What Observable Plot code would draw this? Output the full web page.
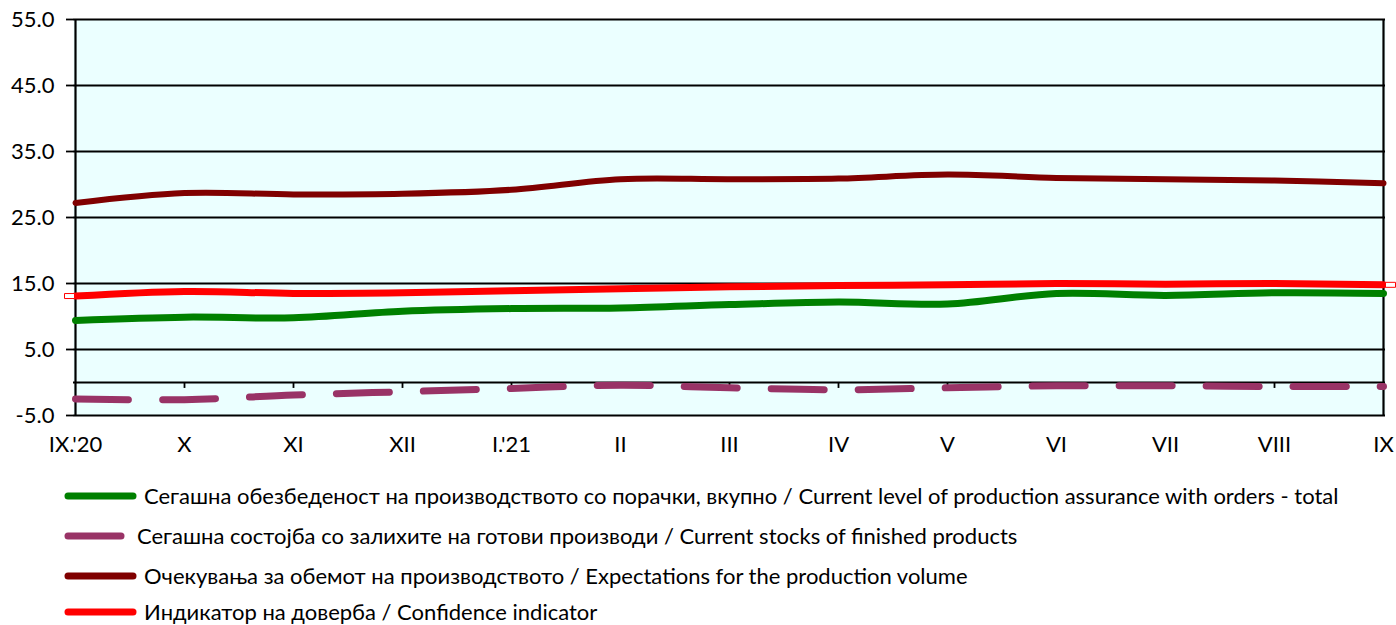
<!DOCTYPE html>
<html>
<head>
<meta charset="utf-8">
<script src="https://cdn.jsdelivr.net/npm/d3@7"></script>
<script src="https://cdn.jsdelivr.net/npm/@observablehq/plot@0.6"></script>
<style>
  body { margin: 0; background: #fff; font-family: Lato, "Open Sans", sans-serif; overflow: hidden; }
  #chart svg { display: block; }
  .legend { position: relative; height: 155px; }
  .row { position: absolute; left: 0; height: 26px; line-height: 26px; display: flex; align-items: center; font-size: 22px; color: #000; white-space: nowrap; }
  .row svg { display: block; }
</style>
</head>
<body>
<div id="chart"></div>
<div class="legend" id="legend"></div>
<script>
const months = ["IX.'20", "X", "XI", "XII", "I.'21", "II", "III", "IV", "V", "VI", "VII", "VIII", "IX"];
const orders      = [9.4, 9.9, 9.8, 10.8, 11.2, 11.3, 11.8, 12.2, 11.9, 13.5, 13.2, 13.6, 13.5];
const stocks      = [-2.5, -2.6, -1.9, -1.4, -0.9, -0.4, -0.8, -1.1, -0.8, -0.5, -0.5, -0.6, -0.6];
const expectations= [27.2, 28.7, 28.5, 28.6, 29.2, 30.8, 30.8, 30.9, 31.5, 31.0, 30.8, 30.6, 30.2];
const confidence  = [13.1, 13.8, 13.5, 13.6, 13.9, 14.2, 14.5, 14.7, 14.8, 15.0, 14.9, 15.0, 14.8];
const yTicks = [55, 45, 35, 25, 15, 5, -5];

const seriesNames = [
  "Сегашна обезбеденост на производството со порачки, вкупно / Current level of production assurance with orders - total",
  "Сегашна состојба со залихите на готови производи / Current stocks of finished products",
  "Очекувања за обемот на производството / Expectations for the production volume",
  "Индикатор на доверба / Confidence indicator"
];
const colors = ["#008000", "#993366", "#800000", "#ff0000"];

const toRows = (vals) => months.map((m, i) => ({month: m, value: vals[i]}));
const rowsOrders = toRows(orders);
const rowsStocks = toRows(stocks);
const rowsExp = toRows(expectations);
const rowsConf = toRows(confidence);

const rectSymbol = { draw(ctx) { ctx.rect(-5, -2.5, 10, 5); } };

const chart = Plot.plot({
  width: 1396,
  height: 470,
  marginLeft: 73,
  marginRight: 11,
  marginTop: 19,
  marginBottom: 55,
  style: { fontFamily: "Lato, 'Open Sans', sans-serif", fontSize: "22px", background: "transparent", color: "#000" },
  x: { type: "point", domain: months, padding: 0, label: null },
  y: { domain: [-5, 55], label: null },
  marks: [
    Plot.frame({ fill: "#ebffff" }),
    Plot.ruleY(yTicks, { stroke: "#000", strokeWidth: 1.8 }),
    Plot.ruleY([0], { stroke: "#000", strokeWidth: 1.8 }),
    Plot.ruleX(months.slice(1), { x: d => d, y1: 0, y2: -0.9, stroke: "#000", strokeWidth: 1.8 }),
    Plot.ruleX([months[0], months[months.length - 1]], { stroke: "#000", strokeWidth: 2.2 }),
    Plot.axisY({ ticks: yTicks, tickFormat: d => d.toFixed(1), tickSize: 7, tickPadding: 12, stroke: "#000", strokeWidth: 1.8, fontSize: 22 }),
    Plot.axisX({ tickSize: 0, tickPadding: 21, fontSize: 22 }),
    Plot.line(rowsStocks, { x: "month", y: "value", stroke: colors[1], strokeWidth: 7, strokeLinecap: "round", strokeDasharray: "53,34", curve: "catmull-rom" }),
    Plot.line(rowsExp, { x: "month", y: "value", stroke: colors[2], strokeWidth: 6, curve: "catmull-rom" }),
    Plot.line(rowsOrders, { x: "month", y: "value", stroke: colors[0], strokeWidth: 7, curve: "catmull-rom" }),
    Plot.line(rowsConf, { x: "month", y: "value", stroke: colors[3], strokeWidth: 7, curve: "catmull-rom" }),
    Plot.dot([rowsConf[0]], { x: "month", y: "value", symbol: rectSymbol, stroke: colors[3], fill: "#fff", strokeWidth: 1, dx: -6, r: 4 }),
    Plot.dot([rowsConf[rowsConf.length - 1]], { x: "month", y: "value", symbol: rectSymbol, stroke: colors[3], fill: "#fff", strokeWidth: 1, dx: 7, r: 4 })
  ]
});
document.getElementById("chart").appendChild(chart);

// Legend
const legend = document.getElementById("legend");
const rowTops = [13, 53, 93, 129];
const sampleW = [78, 66, 78, 78];
seriesNames.forEach((name, i) => {
  const row = document.createElement("div");
  row.className = "row";
  row.style.top = rowTops[i] + "px";
  const ns = "http://www.w3.org/2000/svg";
  const s = document.createElementNS(ns, "svg");
  s.setAttribute("width", 62 + sampleW[i]);
  s.setAttribute("height", 26);
  const l = document.createElementNS(ns, "line");
  l.setAttribute("x1", 68); l.setAttribute("x2", 62 + sampleW[i] - 7);
  l.setAttribute("y1", 13); l.setAttribute("y2", 13);
  l.setAttribute("stroke", colors[i]); l.setAttribute("stroke-width", 7);
  l.setAttribute("stroke-linecap", "round");
  s.appendChild(l);
  row.appendChild(s);
  const t = document.createElement("span");
  t.textContent = name;
  t.style.marginLeft = (i === 1 ? 9 : 4) + "px";
  row.appendChild(t);
  legend.appendChild(row);
});
</script>
</body>
</html>
